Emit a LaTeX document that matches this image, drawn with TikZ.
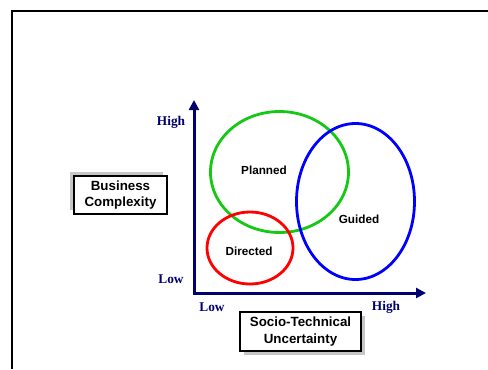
\documentclass[tikz,border=0pt]{standalone}
\usepackage{fontspec}
\setmainfont{Liberation Sans}
\newfontfamily\axisfont{Liberation Serif}
\usetikzlibrary{arrows.meta,shapes.geometric,shadows}
\definecolor{axisblue}{RGB}{0,0,110}
\definecolor{plangreen}{RGB}{20,200,20}

\begin{document}
\begin{tikzpicture}[x=.75pt,y=-.75pt,
  axis/.style={line width=2.25pt, draw=axisblue,
    {Triangle[length=7.5pt,width=7.5pt]}-{Triangle[length=7.5pt,width=7.5pt]}},
  tick/.style={font=\axisfont\bfseries\fontsize{10}{12}\selectfont, text=axisblue},
  region/.style={draw, ellipse, line width=2.1pt, inner sep=0pt},
  tag/.style={font=\bfseries\fontsize{8.8}{10}\selectfont},
  namebox/.style={draw, line width=1.1pt, fill=white, align=center, inner sep=0pt,
    font=\bfseries\fontsize{10}{12.5}\selectfont}]

\useasboundingbox (0,0) rectangle (488,369);
\draw[line width=1.5pt] (12,369) -- (12,11) -- (488,11);

\coordinate (ytop) at (194,100);
\coordinate (o) at (194,293);
\coordinate (xend) at (426,293);
\draw[axis] (ytop) -- (o) -- (xend);

\node (yhigh) at (171,122) [tick] {High};
\node (ylow) at (171,279) [tick] {Low};
\node (xlow) at (212,307) [tick] {Low};
\node (xhigh) at (386,307) [tick] {High};

\node (planned) at (279.5,172) [region, draw=plangreen, minimum width=103.5pt, minimum height=90.75pt] {};
\node (directed) at (250,248) [region, draw=red, minimum width=64.5pt, minimum height=54pt] {};
\node (guided) at (355.5,201.5) [region, draw=blue, minimum width=88.5pt, minimum height=117pt] {};

\node (plannedtxt) at (264,170) [tag] {Planned};
\node (guidedtxt) at (359,219) [tag] {Guided};
\node (directedtxt) at (249,251) [tag] {Directed};

\node (business) at (120.5,195) [namebox, minimum width=69.75pt, minimum height=28.5pt,
  copy shadow={shadow xshift=-3pt, shadow yshift=3pt, draw=none, fill=gray!45}] {Business\\Complexity};
\node (socio) at (300.5,331.5) [namebox, minimum width=90.75pt, minimum height=29.25pt,
  copy shadow={shadow xshift=3pt, shadow yshift=-3pt, draw=none, fill=gray!45}] {Socio-Technical\\Uncertainty};

\end{tikzpicture}
\end{document}
